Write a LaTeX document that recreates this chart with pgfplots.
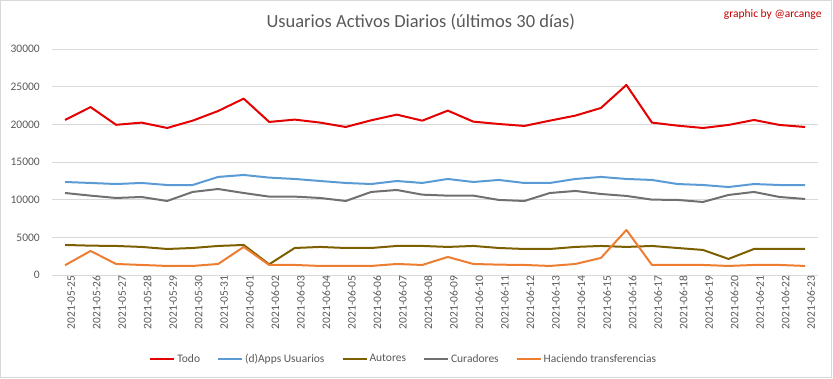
\documentclass[border=0pt]{standalone}
\usepackage{fontspec}
\setmainfont{Carlito}
\usepackage{pgfplots}
\pgfplotsset{compat=1.18}
\definecolor{cTodo}{RGB}{228,0,0}
\definecolor{cApps}{RGB}{91,155,213}
\definecolor{cAut}{RGB}{124,96,0}
\definecolor{cCur}{RGB}{112,112,112}
\definecolor{cHac}{RGB}{237,125,49}
\definecolor{txt}{RGB}{89,89,89}
\definecolor{grd}{RGB}{217,217,217}
\begin{document}
\begin{tikzpicture}
\useasboundingbox (-52.3pt,-103.7pt) rectangle (780.7pt,275.3pt);
\draw[grd, line width=0.8pt] (-51.8pt,-101.8pt) rectangle (778.6pt,274.8pt);
\begin{axis}[
  scale only axis, width=765.5pt, height=226.3pt,
  xmin=-0.5, xmax=29.5, ymin=0, ymax=30000,
  ytick={0,5000,10000,15000,20000,25000,30000},
  xtick={0,...,29},
  xticklabels={2021-05-25,2021-05-26,2021-05-27,2021-05-28,2021-05-29,2021-05-30,2021-05-31,2021-06-01,2021-06-02,2021-06-03,2021-06-04,2021-06-05,2021-06-06,2021-06-07,2021-06-08,2021-06-09,2021-06-10,2021-06-11,2021-06-12,2021-06-13,2021-06-14,2021-06-15,2021-06-16,2021-06-17,2021-06-18,2021-06-19,2021-06-20,2021-06-21,2021-06-22,2021-06-23},
  xticklabel style={rotate=90, anchor=east, font=\fontsize{11.5}{13}\selectfont, text=txt, inner sep=0pt, yshift=-6pt},
  yticklabel style={font=\fontsize{11.5}{13}\selectfont, text=txt, xshift=-9pt},
  /pgf/number format/set thousands separator={},
  /pgf/number format/assume math mode=true,
  scaled y ticks=false,
  major tick length=0pt,
  axis line style={draw=none},
  ymajorgrids, grid style={grd, line width=0.8pt},
  every axis plot/.append style={line width=2pt, mark=none, line join=round},
  legend columns=5,
  legend style={at={(0.459,-0.369)}, anchor=center, draw=none, fill=none,
    font=\fontsize{11.5}{13}\selectfont, text=txt,
    /tikz/every even column/.append style={column sep=15pt},
    nodes={inner sep=2pt}},
  legend image code/.code={\draw[#1] (0pt,0pt) -- (24pt,0pt);},
]
\addplot[cTodo] coordinates {(0,20600)(1,22300)(2,19950)(3,20240)(4,19530)(5,20500)(6,21780)(7,23420)(8,20330)(9,20640)(10,20240)(11,19660)(12,20550)(13,21300)(14,20500)(15,21830)(16,20370)(17,20060)(18,19800)(19,20500)(20,21170)(21,22180)(22,25230)(23,20240)(24,19840)(25,19530)(26,19930)(27,20590)(28,19930)(29,19660)};
\addlegendentry{Todo}
\addplot[cApps] coordinates {(0,12370)(1,12240)(2,12100)(3,12240)(4,11970)(5,11970)(6,13040)(7,13300)(8,12950)(9,12770)(10,12500)(11,12240)(12,12100)(13,12500)(14,12240)(15,12770)(16,12370)(17,12640)(18,12240)(19,12240)(20,12770)(21,13040)(22,12770)(23,12640)(24,12100)(25,11970)(26,11700)(27,12100)(28,11970)(29,11970)};
\addlegendentry{(d)Apps Usuarios}
\addplot[cAut] coordinates {(0,4020)(1,3930)(2,3890)(3,3760)(4,3490)(5,3620)(6,3890)(7,4020)(8,1460)(9,3620)(10,3760)(11,3620)(12,3620)(13,3890)(14,3890)(15,3760)(16,3890)(17,3620)(18,3490)(19,3490)(20,3760)(21,3890)(22,3760)(23,3890)(24,3620)(25,3360)(26,2170)(27,3490)(28,3490)(29,3490)};
\addlegendentry{Autores}
\addplot[cCur] coordinates {(0,10910)(1,10560)(2,10250)(3,10380)(4,9850)(5,11050)(6,11440)(7,10910)(8,10430)(9,10430)(10,10250)(11,9850)(12,11050)(13,11310)(14,10690)(15,10560)(16,10560)(17,9990)(18,9850)(19,10910)(20,11180)(21,10780)(22,10520)(23,10030)(24,9990)(25,9720)(26,10650)(27,11050)(28,10380)(29,10120)};
\addlegendentry{Curadores}
\addplot[cHac] coordinates {(0,1330)(1,3230)(2,1500)(3,1370)(4,1240)(5,1240)(6,1500)(7,3760)(8,1370)(9,1370)(10,1240)(11,1240)(12,1240)(13,1500)(14,1370)(15,2430)(16,1500)(17,1410)(18,1370)(19,1240)(20,1500)(21,2300)(22,6010)(23,1370)(24,1370)(25,1370)(26,1240)(27,1370)(28,1370)(29,1240)};
\addlegendentry{Haciendo transferencias}
\end{axis}
\node[text=txt, font=\fontsize{18.5}{22}\selectfont] at (368.5pt,253pt) {Usuarios Activos Diarios (últimos 30 días)};
\node[text={rgb,255:red,192;green,0;blue,0}, font=\fontsize{11.5}{13}\selectfont, anchor=east, inner sep=0pt] at (769.4pt,261pt) {graphic by @arcange};
\end{tikzpicture}
\end{document}
